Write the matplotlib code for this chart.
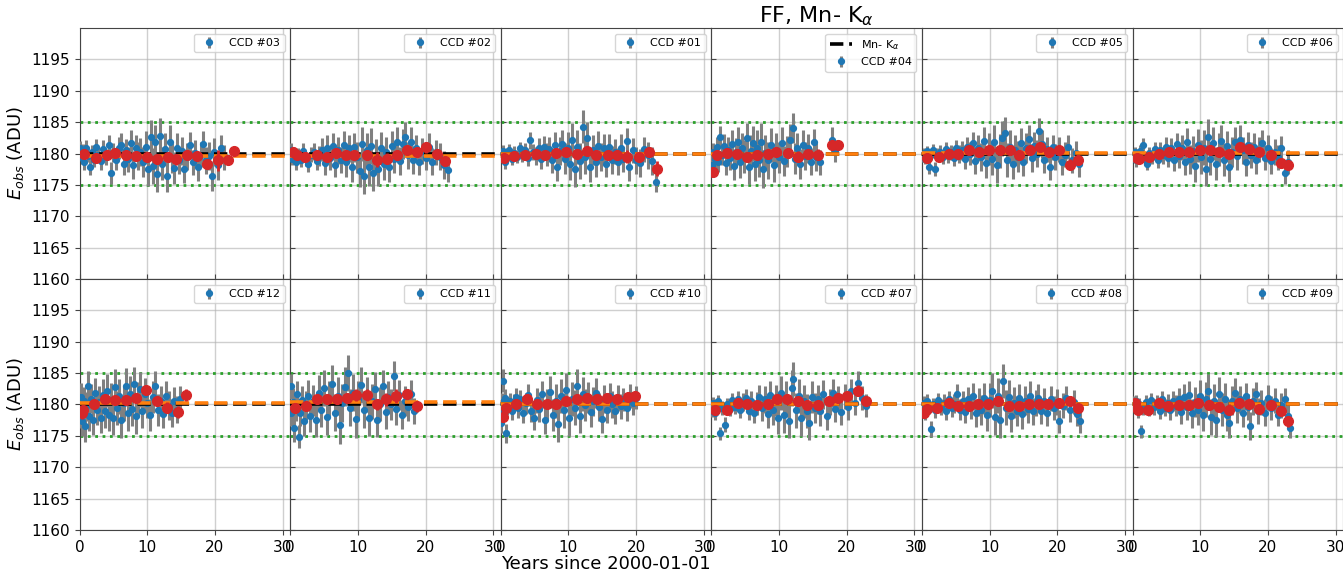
import matplotlib
matplotlib.use('Agg')
import matplotlib.pyplot as plt

# ---------------- data ----------------
top_ccds = ['03', '02', '01', '04', '05', '06']
bottom_ccds = ['12', '11', '10', '07', '08', '09']

mn_ka = 1180.0
band_low, band_high = 1175.0, 1185.0

# orange dashed level per CCD
fit_level = {'03': 1179.6, '02': 1179.65, '01': 1179.95, '04': 1179.95, '05': 1180.15, '06': 1180.15,
             '12': 1180.3, '11': 1180.35, '10': 1180.1, '07': 1180.05, '08': 1180.05, '09': 1180.05}

# blue points: (year, E_obs, error)
ccd03_pts = [(0.1,1180.8,1.2),(0.3,1179.3,1.0),(0.5,1180.4,1.1),(0.7,1178.7,1.3),(0.9,1180.9,1.2),(1.2,1179.6,1.0),(1.5,1177.9,1.4),(1.8,1180.3,1.1),(2.1,1179.0,1.2),(2.5,1181.0,1.3),(2.8,1179.8,1.2),(3.2,1178.8,1.5),(3.5,1180.7,1.4),(3.9,1179.4,1.3),(4.3,1181.3,1.6),(4.7,1176.9,1.8),(5.0,1180.2,1.5),(5.4,1179.0,1.6),(5.8,1180.9,1.7),(6.1,1181.4,1.8),(6.5,1178.4,1.9),(6.9,1180.5,1.8),(7.2,1179.1,2.0),(7.6,1181.6,2.1),(7.9,1178.2,2.2),(8.3,1180.9,2.1),(8.7,1179.6,2.3),(9.0,1180.2,2.2),(9.4,1178.7,2.4),(9.8,1181.1,2.5),(10.1,1177.5,2.6),(10.5,1182.6,2.7),(10.8,1178.0,2.8),(11.2,1181.9,2.7),(11.5,1176.8,2.9),(11.9,1182.8,2.8),(12.2,1178.4,2.7),(12.6,1180.7,2.6),(12.9,1176.4,2.5),(13.3,1181.9,2.6),(13.6,1179.3,2.4),(14.0,1177.7,2.5),(14.4,1180.9,2.3),(14.7,1178.9,2.2),(15.1,1180.4,2.3),(15.5,1177.5,2.2),(15.9,1179.5,2.1),(16.3,1181.3,2.2),(16.7,1178.6,2.0),(17.1,1180.1,2.1),(17.5,1177.8,2.2),(17.9,1179.8,2.0),(18.3,1181.5,2.1),(18.7,1178.9,2.2),(19.1,1179.6,2.3),(19.5,1176.4,2.4),(19.9,1180.2,2.2),(20.4,1178.1,2.3),(20.9,1180.8,2.1),(21.3,1179.4,2.0)]
ccd02_pts = [(0.1,1180.6,1.0),(0.3,1179.2,1.1),(0.6,1180.2,0.9),(0.9,1178.6,1.2),(1.2,1179.9,1.0),(1.6,1178.9,1.1),(1.9,1180.4,1.2),(2.3,1179.1,1.1),(2.7,1178.4,1.3),(3.1,1179.8,1.2),(3.5,1180.3,1.4),(3.9,1178.8,1.5),(4.3,1179.6,1.6),(4.7,1180.6,1.8),(5.1,1178.5,1.9),(5.5,1180.9,2.0),(5.9,1179.3,1.9),(6.3,1181.2,2.1),(6.7,1178.2,2.0),(7.1,1180.5,2.2),(7.5,1179.0,2.1),(7.9,1181.4,2.2),(8.3,1178.6,2.3),(8.7,1180.8,2.2),(9.1,1177.9,2.4),(9.5,1181.0,2.3),(9.9,1179.4,2.5),(10.3,1177.2,2.6),(10.6,1181.5,2.7),(10.9,1176.4,2.8),(11.3,1180.6,2.7),(11.6,1177.8,2.9),(12.0,1181.2,2.8),(12.3,1176.9,2.9),(12.7,1179.6,2.7),(13.0,1177.6,2.8),(13.4,1180.9,2.6),(13.8,1178.3,2.5),(14.2,1180.2,2.4),(14.6,1177.8,2.3),(15.0,1181.2,2.4),(15.4,1179.1,2.2),(15.8,1181.9,2.3),(16.2,1178.8,2.2),(16.6,1181.5,2.4),(17.0,1182.7,2.3),(17.4,1179.7,2.2),(17.8,1181.8,2.4),(18.2,1179.0,2.2),(18.6,1180.9,2.1),(19.0,1178.6,2.0),(19.5,1180.4,2.1),(20.0,1179.3,2.0),(20.5,1181.0,2.2),(21.0,1178.7,2.1),(21.5,1180.2,2.0),(22.1,1179.5,2.1),(22.7,1178.2,2.2),(23.3,1177.4,2.0)]
ccd01_pts = [(0.1,1179.6,1.0),(0.3,1180.4,0.9),(0.6,1178.6,1.1),(0.9,1179.9,1.0),(1.2,1180.6,0.9),(1.6,1179.2,1.0),(2.0,1180.1,1.1),(2.4,1179.5,1.0),(2.8,1180.8,1.1),(3.2,1179.9,1.2),(3.6,1180.5,1.2),(4.0,1179.3,1.3),(4.4,1182.1,1.4),(4.8,1180.2,1.3),(5.2,1179.6,1.5),(5.6,1180.9,1.5),(6.0,1179.2,1.6),(6.4,1181.1,1.7),(6.8,1179.8,1.8),(7.2,1180.7,1.9),(7.6,1178.9,2.0),(8.0,1181.3,2.1),(8.3,1177.8,2.2),(8.7,1180.4,2.2),(9.1,1181.5,2.3),(9.5,1179.2,2.4),(9.9,1180.9,2.5),(10.3,1178.3,2.6),(10.6,1182.2,2.7),(11.0,1177.5,2.8),(11.3,1181.0,2.7),(11.7,1178.8,2.8),(12.1,1184.3,2.6),(12.4,1179.5,2.7),(12.8,1182.4,2.6),(13.2,1177.9,2.5),(13.6,1180.6,2.4),(14.0,1178.6,2.3),(14.4,1181.2,2.4),(14.8,1179.4,2.2),(15.2,1180.8,2.3),(15.6,1178.4,2.2),(16.0,1181.0,2.1),(16.4,1179.0,2.2),(16.9,1180.3,2.0),(17.3,1178.7,2.1),(17.7,1180.9,2.2),(18.1,1179.1,2.0),(18.6,1182.0,2.1),(19.0,1177.8,2.2),(19.5,1180.5,2.0),(20.0,1178.9,2.1),(20.6,1178.5,2.2),(21.2,1180.7,2.0),(21.8,1179.7,2.1),(22.4,1178.8,2.2),(22.9,1175.4,1.6)]
ccd04_pts = [(0.1,1178.2,1.6),(0.3,1180.3,1.4),(0.5,1179.1,1.5),(0.8,1181.0,1.6),(1.0,1178.7,1.7),(1.3,1182.6,1.8),(1.6,1179.8,1.7),(1.9,1181.2,1.9),(2.2,1178.5,2.0),(2.5,1180.6,2.1),(2.8,1179.3,2.0),(3.1,1181.5,2.2),(3.4,1178.0,2.3),(3.7,1180.2,2.2),(4.0,1181.8,2.4),(4.3,1178.6,2.5),(4.6,1180.9,2.4),(4.9,1179.5,2.6),(5.2,1182.4,2.5),(5.5,1177.9,2.7),(5.8,1180.4,2.6),(6.1,1181.6,2.8),(6.4,1178.3,2.7),(6.7,1180.8,2.9),(7.0,1179.0,2.8),(7.4,1181.9,2.9),(7.7,1177.5,3.0),(8.0,1180.1,2.8),(8.4,1178.9,2.9),(8.8,1181.3,2.7),(9.2,1178.2,2.8),(9.6,1180.6,2.6),(10.0,1179.4,2.5),(10.4,1181.7,2.6),(10.8,1178.8,2.4),(11.2,1180.3,2.5),(11.6,1182.1,2.6),(12.0,1184.1,2.4),(12.3,1179.2,2.5),(12.7,1180.9,2.3),(13.1,1178.3,2.4),(13.5,1181.4,2.3),(13.9,1179.6,2.2),(14.3,1180.8,2.3),(14.7,1178.7,2.2),(15.1,1181.8,2.1),(15.5,1179.4,2.2),(16.1,1178.6,2.0),(17.8,1182.2,2.0),(18.3,1180.4,1.8)]
ccd05_pts = [(0.1,1179.5,0.9),(0.3,1180.1,0.8),(0.5,1179.2,0.9),(0.8,1180.4,0.8),(1.1,1177.8,1.0),(1.4,1179.8,0.9),(1.7,1180.6,0.9),(2.0,1177.5,1.1),(2.3,1179.9,0.9),(2.7,1180.3,1.0),(3.1,1179.4,1.0),(3.5,1180.7,1.1),(3.9,1179.7,1.2),(4.3,1180.2,1.2),(4.7,1179.3,1.3),(5.1,1180.8,1.3),(5.5,1179.9,1.4),(5.9,1180.5,1.5),(6.3,1179.1,1.6),(6.7,1181.0,1.7),(7.1,1180.0,1.8),(7.5,1181.6,1.9),(7.9,1178.8,2.0),(8.3,1180.9,2.1),(8.7,1179.4,2.2),(9.1,1182.0,2.3),(9.5,1178.5,2.4),(9.9,1180.7,2.5),(10.3,1179.2,2.6),(10.7,1181.8,2.7),(11.1,1178.1,2.8),(11.5,1180.4,2.7),(11.9,1182.4,2.8),(12.2,1183.2,2.6),(12.6,1179.0,2.7),(13.0,1181.1,2.6),(13.4,1178.4,2.5),(13.8,1180.6,2.4),(14.2,1179.5,2.5),(14.6,1181.7,2.4),(15.0,1178.7,2.3),(15.4,1180.9,2.4),(15.8,1182.3,2.3),(16.2,1179.3,2.2),(16.6,1181.2,2.3),(17.0,1180.0,2.2),(17.3,1183.6,2.1),(17.7,1181.5,2.2),(18.1,1179.0,2.1),(18.5,1180.7,2.0),(18.9,1177.9,2.1),(19.3,1181.0,2.0),(19.7,1179.4,2.1),(20.2,1180.6,2.0),(20.7,1178.6,2.1),(21.2,1179.8,2.0),(21.6,1181.0,1.9),(22.2,1178.9,2.0),(22.7,1180.1,1.9),(23.2,1178.3,2.0)]
ccd06_pts = [(0.1,1179.6,0.9),(0.3,1180.2,0.8),(0.5,1178.9,1.0),(0.8,1179.8,0.9),(1.1,1180.4,0.9),(1.5,1181.4,1.0),(1.8,1179.2,1.0),(2.1,1178.4,1.1),(2.5,1180.1,1.0),(2.9,1179.5,1.1),(3.3,1180.7,1.2),(3.7,1179.0,1.3),(4.1,1180.5,1.3),(4.5,1179.7,1.4),(4.9,1181.1,1.5),(5.3,1179.3,1.5),(5.7,1180.8,1.6),(6.1,1178.9,1.7),(6.5,1181.5,1.8),(6.9,1179.6,1.9),(7.3,1180.9,2.0),(7.7,1178.6,2.1),(8.1,1181.8,2.2),(8.5,1179.1,2.3),(8.9,1180.4,2.4),(9.3,1178.0,2.5),(9.7,1181.3,2.6),(10.1,1179.5,2.7),(10.5,1180.9,2.8),(10.8,1177.6,2.7),(11.1,1182.7,2.8),(11.5,1179.2,2.7),(11.9,1181.6,2.6),(12.3,1178.4,2.7),(12.7,1180.6,2.6),(13.1,1182.0,2.5),(13.5,1179.0,2.6),(13.9,1181.2,2.4),(14.3,1177.9,2.5),(14.7,1180.3,2.4),(15.1,1181.9,2.3),(15.5,1179.6,2.2),(15.9,1182.2,2.3),(16.3,1180.5,2.2),(16.7,1178.7,2.3),(17.1,1181.3,2.2),(17.5,1179.8,2.1),(17.9,1181.0,2.2),(18.3,1178.9,2.1),(18.7,1180.6,2.0),(19.1,1181.7,2.1),(19.5,1179.3,2.0),(20.0,1180.8,2.1),(20.5,1178.8,2.0),(21.0,1180.2,2.1),(21.5,1179.4,2.0),(22.0,1180.9,1.9),(22.5,1176.9,1.8),(22.9,1178.6,1.9)]
ccd12_pts = [(0.1,1178.5,2.2),(0.2,1181.2,2.3),(0.4,1177.4,2.4),(0.6,1180.6,2.2),(0.8,1176.5,2.5),(1.0,1179.7,2.3),(1.2,1182.9,2.4),(1.4,1178.2,2.5),(1.7,1180.9,2.3),(2.0,1177.6,2.4),(2.3,1181.8,2.5),(2.6,1179.2,2.4),(2.9,1180.4,2.6),(3.2,1177.9,2.5),(3.5,1181.5,2.6),(3.8,1179.0,2.7),(4.1,1182.2,2.6),(4.4,1178.4,2.7),(4.7,1180.7,2.8),(5.0,1177.8,2.7),(5.3,1182.8,2.8),(5.6,1179.5,2.7),(5.9,1181.3,2.8),(6.2,1177.5,2.9),(6.5,1180.2,2.8),(6.8,1182.9,2.9),(7.1,1178.6,2.8),(7.4,1181.7,2.9),(7.7,1179.3,2.8),(8.0,1183.3,2.7),(8.3,1178.1,2.8),(8.6,1180.9,2.7),(8.9,1182.4,2.8),(9.2,1179.0,2.7),(9.6,1181.6,2.6),(10.0,1180.3,2.5),(10.4,1178.3,2.6),(10.8,1181.2,2.5),(11.2,1182.9,2.4),(11.6,1179.1,2.5),(12.0,1180.6,2.4),(12.4,1178.5,2.3),(12.8,1181.4,2.4),(13.2,1179.8,2.3),(13.6,1178.6,2.2),(14.0,1180.5,2.3),(14.4,1179.2,2.2),(14.9,1180.8,2.1)]
ccd11_pts = [(0.1,1182.9,2.0),(0.2,1178.6,2.1),(0.4,1180.4,2.2),(0.6,1176.3,2.3),(0.8,1179.5,2.1),(1.0,1181.6,2.2),(1.3,1174.9,1.8),(1.5,1178.7,2.2),(1.8,1180.7,2.3),(2.1,1177.4,2.4),(2.4,1179.9,2.3),(2.7,1181.4,2.5),(3.0,1178.2,2.6),(3.4,1180.6,2.5),(3.8,1177.5,2.7),(4.2,1181.9,2.8),(4.6,1179.1,2.7),(5.0,1182.6,2.9),(5.4,1178.0,2.8),(5.8,1180.9,2.9),(6.2,1183.3,3.0),(6.6,1178.7,2.9),(7.0,1181.4,3.0),(7.3,1176.8,3.1),(7.7,1180.2,3.0),(8.1,1182.8,3.1),(8.5,1185.0,2.9),(8.9,1179.5,3.0),(9.3,1181.9,2.9),(9.7,1177.7,3.0),(10.1,1180.8,2.9),(10.5,1183.1,2.8),(10.9,1179.2,2.9),(11.3,1181.6,2.8),(11.7,1177.9,2.9),(12.1,1180.5,2.8),(12.5,1182.4,2.7),(12.9,1177.6,2.8),(13.3,1180.1,2.7),(13.7,1182.9,2.6),(14.1,1178.8,2.7),(14.5,1181.2,2.6),(14.9,1180.0,2.5),(15.3,1184.5,2.4),(15.7,1179.3,2.5),(16.1,1181.5,2.4),(16.5,1178.4,2.3),(16.9,1180.6,2.4),(17.4,1179.6,2.3),(17.8,1181.7,2.2),(18.3,1179.0,2.1)]
ccd10_pts = [(0.1,1177.0,1.6),(0.2,1180.4,1.5),(0.3,1183.8,1.8),(0.4,1179.2,1.6),(0.6,1181.0,1.5),(0.8,1175.4,1.5),(1.0,1179.8,1.4),(1.3,1180.6,1.3),(1.6,1178.9,1.4),(1.9,1180.3,1.3),(2.2,1181.2,1.4),(2.5,1179.4,1.5),(2.9,1180.8,1.5),(3.3,1178.6,1.6),(3.7,1180.2,1.7),(4.1,1181.5,1.7),(4.5,1179.0,1.8),(4.9,1177.9,1.9),(5.3,1180.7,2.0),(5.7,1179.3,2.1),(6.1,1181.6,2.2),(6.5,1177.6,2.3),(6.9,1180.1,2.4),(7.3,1182.0,2.5),(7.7,1178.3,2.6),(8.1,1180.6,2.7),(8.5,1176.9,2.8),(8.9,1181.4,2.7),(9.3,1179.1,2.8),(9.7,1182.3,2.7),(10.1,1177.8,2.8),(10.5,1180.9,2.7),(10.9,1179.5,2.8),(11.3,1182.9,2.7),(11.7,1178.1,2.6),(12.1,1181.7,2.7),(12.5,1179.9,2.6),(12.9,1181.1,2.5),(13.3,1178.8,2.4),(13.7,1180.5,2.3),(14.1,1181.8,2.4),(14.5,1179.6,2.2),(14.9,1177.7,2.3),(15.3,1180.9,2.2),(15.7,1179.2,2.1),(16.1,1181.3,2.2),(16.5,1180.0,2.1),(16.9,1178.9,2.0),(17.3,1181.0,2.1),(17.7,1179.7,2.0),(18.1,1180.8,1.9),(18.6,1179.4,2.0),(19.1,1181.4,1.9),(19.6,1180.2,1.8),(20.0,1181.1,1.8)]
ccd07_pts = [(0.1,1179.0,1.0),(0.3,1180.3,0.9),(0.5,1178.6,1.1),(0.7,1179.8,1.0),(1.0,1180.5,1.0),(1.3,1175.4,1.0),(1.6,1179.4,1.1),(2.0,1176.8,1.2),(2.3,1180.1,1.0),(2.7,1179.3,1.1),(3.1,1180.7,1.2),(3.5,1179.6,1.1),(3.9,1180.9,1.3),(4.3,1179.2,1.3),(4.7,1180.4,1.4),(5.1,1181.0,1.5),(5.5,1179.0,1.5),(5.9,1180.6,1.6),(6.3,1178.7,1.7),(6.7,1180.2,1.8),(7.1,1181.2,1.9),(7.5,1179.4,2.0),(7.9,1180.8,2.1),(8.3,1178.5,2.2),(8.7,1181.5,2.3),(9.1,1179.2,2.4),(9.5,1180.6,2.5),(9.9,1177.9,2.6),(10.3,1181.9,2.7),(10.7,1178.3,2.8),(11.1,1180.9,2.9),(11.5,1177.4,2.8),(11.9,1182.6,2.9),(12.1,1184.0,2.7),(12.5,1179.1,2.8),(12.9,1181.4,2.7),(13.3,1177.8,2.8),(13.7,1180.5,2.6),(14.1,1179.0,2.7),(14.5,1177.0,2.6),(14.9,1181.2,2.5),(15.3,1179.5,2.4),(15.7,1180.8,2.3),(16.1,1178.9,2.4),(16.5,1181.6,2.3),(17.1,1178.1,2.2),(17.5,1180.4,2.1),(17.9,1181.8,2.2),(18.3,1179.3,2.1),(18.7,1180.9,2.0),(19.2,1178.8,2.1),(19.7,1181.3,2.0),(20.2,1179.6,2.1),(20.7,1182.1,2.0),(21.2,1180.2,1.9),(21.7,1183.4,2.0),(22.2,1181.0,1.9),(22.8,1179.8,1.8)]
ccd08_pts = [(0.1,1179.3,1.2),(0.3,1180.2,1.1),(0.5,1178.7,1.2),(0.7,1180.6,1.1),(1.0,1179.5,1.0),(1.4,1176.1,1.2),(1.7,1180.0,1.1),(2.0,1179.1,1.2),(2.4,1180.7,1.1),(2.8,1179.6,1.2),(3.2,1180.3,1.3),(3.6,1178.9,1.3),(4.0,1180.8,1.4),(4.4,1179.4,1.4),(4.8,1180.1,1.5),(5.2,1181.6,1.6),(5.6,1179.2,1.6),(6.0,1180.5,1.7),(6.4,1178.8,1.8),(6.8,1180.9,1.9),(7.2,1179.7,2.0),(7.6,1181.3,2.1),(8.0,1178.6,2.2),(8.4,1180.4,2.3),(8.8,1179.1,2.4),(9.2,1181.0,2.5),(9.6,1178.3,2.6),(10.0,1180.7,2.7),(10.4,1182.2,2.8),(10.8,1178.0,2.9),(11.2,1181.4,2.8),(11.6,1177.6,2.9),(12.0,1183.7,2.7),(12.4,1179.5,2.8),(12.8,1181.2,2.7),(13.2,1178.2,2.6),(13.6,1180.3,2.5),(14.0,1179.0,2.4),(14.4,1181.0,2.3),(14.8,1178.5,2.4),(15.2,1180.6,2.3),(15.6,1179.3,2.2),(16.0,1181.4,2.3),(16.4,1178.9,2.2),(16.8,1180.2,2.1),(17.2,1181.1,2.2),(17.6,1179.0,2.1),(18.0,1180.6,2.0),(18.5,1178.6,2.1),(19.0,1180.9,2.0),(19.5,1179.5,1.9),(20.0,1180.4,2.0),(20.3,1177.3,1.9),(20.8,1179.8,2.0),(21.3,1181.0,1.9),(21.8,1179.2,2.0),(22.4,1180.4,1.9),(22.9,1178.5,1.9),(23.3,1177.3,1.8)]
ccd09_pts = [(0.1,1180.3,1.0),(0.3,1179.6,0.9),(0.5,1180.5,1.0),(0.8,1179.0,1.1),(1.0,1180.1,0.9),(1.3,1175.7,1.0),(1.6,1179.4,1.0),(2.0,1180.4,1.1),(2.4,1179.2,1.0),(2.8,1180.7,1.1),(3.2,1179.6,1.2),(3.6,1180.3,1.2),(4.0,1179.0,1.3),(4.4,1180.8,1.3),(4.8,1179.5,1.4),(5.2,1180.2,1.4),(5.6,1179.1,1.5),(6.0,1180.6,1.6),(6.4,1179.8,1.7),(6.8,1180.9,1.8),(7.2,1178.8,1.9),(7.6,1181.2,2.0),(8.0,1179.6,2.1),(8.4,1181.5,2.2),(8.8,1178.6,2.3),(9.2,1180.4,2.4),(9.6,1179.2,2.5),(10.0,1181.3,2.6),(10.4,1178.4,2.7),(10.8,1180.8,2.8),(11.2,1182.2,2.7),(11.6,1178.0,2.8),(12.0,1180.5,2.7),(12.4,1177.6,2.8),(12.8,1181.7,2.7),(13.2,1179.2,2.6),(13.6,1180.9,2.5),(14.0,1178.3,2.6),(14.3,1177.0,2.4),(14.7,1180.6,2.3),(15.1,1181.9,2.4),(15.5,1179.4,2.3),(15.9,1180.8,2.2),(16.3,1178.7,2.3),(16.7,1181.3,2.2),(17.1,1179.6,2.1),(17.4,1176.6,2.2),(17.8,1180.5,2.1),(18.2,1181.6,2.0),(18.6,1179.0,2.1),(19.0,1180.3,2.0),(19.5,1178.7,2.1),(20.0,1181.1,2.0),(20.5,1179.5,1.9),(21.0,1180.6,2.0),(21.5,1178.4,1.9),(22.0,1179.9,2.0),(22.5,1180.8,1.9),(22.9,1178.2,1.8),(23.3,1176.3,1.6)]

# red points (binned averages): (year, E_obs, error)
ccd03_avg = [(0.6,1180.0,0.5),(2.4,1179.3,0.6),(4.1,1179.7,0.4),(5.3,1180.1,0.5),(6.8,1179.8,0.4),(8.3,1179.6,0.5),(10.0,1179.5,0.6),(11.5,1179.1,0.7),(13.0,1179.5,0.8),(14.3,1179.1,0.9),(15.9,1179.7,0.6),(17.4,1179.6,0.7),(18.9,1178.3,0.8),(20.4,1178.9,1.7),(22.0,1179.0,0.7),(22.8,1180.4,0.6)]
ccd02_avg = [(0.5,1180.3,0.5),(1.0,1179.8,0.4),(2.2,1179.5,0.5),(3.9,1179.8,0.4),(5.4,1179.5,0.5),(6.8,1180.1,0.5),(8.3,1179.8,0.6),(9.5,1179.8,0.6),(11.4,1179.8,0.8),(12.8,1179.0,1.2),(14.3,1179.2,0.9),(15.8,1179.7,0.7),(17.2,1180.6,0.8),(18.7,1180.3,0.8),(20.1,1181.0,0.9),(21.7,1179.9,0.7),(22.9,1178.8,0.8)]
ccd01_avg = [(0.5,1179.3,0.5),(2.0,1179.6,0.4),(3.6,1179.8,0.4),(5.2,1179.9,0.4),(6.6,1179.8,0.5),(8.2,1180.1,0.5),(9.6,1180.2,0.6),(11.3,1179.9,0.7),(12.8,1180.4,0.8),(14.1,1179.8,0.7),(15.8,1179.8,0.6),(17.2,1179.8,0.6),(18.7,1179.5,1.0),(20.4,1179.5,0.7),(21.9,1180.3,0.7),(23.1,1177.6,1.2)]
ccd04_avg = [(0.2,1177.0,0.6),(0.8,1179.7,0.5),(2.3,1180.1,0.5),(3.8,1179.9,0.5),(5.2,1179.4,0.6),(6.8,1179.8,0.6),(8.3,1179.9,0.6),(9.6,1180.2,0.7),(11.4,1180.1,0.8),(12.8,1179.5,0.9),(14.3,1179.9,0.8),(15.8,1179.8,0.9),(17.8,1181.3,0.8),(18.7,1181.4,0.7)]
ccd05_avg = [(0.8,1179.3,0.4),(2.5,1179.5,0.4),(4.0,1179.9,0.4),(5.4,1179.9,0.4),(7.0,1180.6,0.5),(8.5,1180.3,0.6),(9.9,1180.6,0.6),(11.5,1180.6,0.7),(13.0,1180.6,0.7),(14.4,1179.8,0.8),(15.9,1180.6,0.7),(17.4,1181.0,0.8),(18.8,1180.3,0.7),(20.2,1180.6,0.7),(21.9,1178.2,0.9),(23.0,1179.0,0.8)]
ccd06_avg = [(0.6,1179.3,0.4),(0.9,1179.1,0.4),(2.5,1179.4,0.4),(3.9,1180.0,0.4),(5.4,1180.3,0.5),(6.9,1180.3,0.5),(8.3,1180.3,0.6),(9.9,1180.6,0.6),(11.5,1180.6,0.7),(12.7,1180.3,0.7),(14.3,1180.0,0.7),(15.9,1181.1,0.7),(17.2,1180.7,0.7),(18.7,1180.3,0.7),(20.4,1179.7,0.8),(21.9,1178.5,0.8),(23.0,1178.2,0.8)]
ccd12_avg = [(0.3,1178.6,0.9),(0.5,1179.1,0.8),(2.2,1180.0,0.6),(3.8,1180.8,0.6),(5.3,1180.7,0.6),(6.9,1180.7,0.7),(8.4,1181.1,0.7),(9.8,1182.3,0.8),(11.4,1180.6,0.8),(12.9,1179.5,0.9),(14.5,1178.8,0.9),(15.8,1181.5,0.9)]
ccd11_avg = [(0.7,1179.4,0.8),(2.4,1179.7,0.7),(3.9,1180.9,0.7),(5.4,1180.8,0.7),(6.9,1180.8,0.8),(8.4,1181.1,0.8),(9.8,1181.5,0.9),(11.4,1181.5,0.9),(12.9,1180.0,0.9),(14.2,1180.8,1.0),(15.7,1181.3,1.1),(17.2,1181.6,0.8),(18.7,1179.7,0.9)]
ccd10_avg = [(0.3,1178.0,0.8),(0.8,1179.5,0.6),(2.3,1180.1,0.5),(3.9,1180.9,0.5),(5.3,1180.1,0.6),(6.9,1180.0,0.6),(8.2,1180.0,0.7),(9.6,1180.5,0.7),(11.2,1180.8,0.8),(12.7,1181.0,0.8),(14.2,1180.8,0.8),(15.7,1181.0,0.8),(17.2,1180.9,0.7),(18.8,1181.2,0.8),(19.8,1181.3,0.8)]
ccd07_avg = [(0.6,1179.1,0.5),(2.3,1179.1,0.5),(3.9,1180.2,0.5),(5.3,1180.0,0.5),(6.8,1179.9,0.6),(8.3,1180.0,0.6),(9.7,1180.8,0.7),(11.2,1180.8,0.8),(12.8,1180.6,0.8),(14.2,1179.9,0.8),(15.8,1179.9,0.7),(17.4,1180.6,0.7),(18.7,1181.1,0.7),(20.1,1181.3,0.7),(21.7,1182.2,0.9),(22.8,1180.5,0.8)]
ccd08_avg = [(0.3,1178.6,0.5),(0.8,1179.3,0.5),(2.3,1179.5,0.4),(4.0,1180.3,0.4),(5.4,1179.8,0.5),(7.0,1179.8,0.5),(8.3,1180.0,0.6),(9.8,1180.0,0.6),(11.3,1180.6,0.7),(12.8,1179.7,0.8),(14.3,1179.7,0.7),(15.8,1180.0,0.7),(17.3,1180.0,0.7),(18.6,1180.1,0.6),(20.2,1180.2,0.7),(21.8,1180.6,0.7),(23.0,1179.4,0.8)]
ccd09_avg = [(0.3,1180.3,0.5),(0.8,1179.1,0.5),(2.3,1179.1,0.4),(3.9,1180.2,0.4),(5.2,1179.8,0.5),(6.8,1179.9,0.5),(8.3,1179.9,0.6),(9.6,1180.3,0.6),(11.3,1179.9,0.7),(12.8,1179.6,0.8),(14.3,1179.2,0.8),(15.8,1180.3,0.7),(17.2,1180.1,0.7),(18.7,1179.3,0.8),(20.4,1179.9,0.7),(21.9,1179.0,0.8),(23.0,1177.3,0.9)]

points = {'03': ccd03_pts, '02': ccd02_pts, '01': ccd01_pts, '04': ccd04_pts, '05': ccd05_pts, '06': ccd06_pts,
          '12': ccd12_pts, '11': ccd11_pts, '10': ccd10_pts, '07': ccd07_pts, '08': ccd08_pts, '09': ccd09_pts}
averages = {'03': ccd03_avg, '02': ccd02_avg, '01': ccd01_avg, '04': ccd04_avg, '05': ccd05_avg, '06': ccd06_avg,
            '12': ccd12_avg, '11': ccd11_avg, '10': ccd10_avg, '07': ccd07_avg, '08': ccd08_avg, '09': ccd09_avg}

x_ticks = [0, 10, 20, 30]
y_ticks = [1160, 1165, 1170, 1175, 1180, 1185, 1190, 1195]

# ---------------- figure ----------------
W, H = 1343, 574
fig = plt.figure(figsize=(W / 100, H / 100), dpi=100)

col_w = 210.6
left0 = 79.5
row_h = 251.0
row_tops = [28.0, 279.0]
x_max = 31.1

for r, ccds in enumerate([top_ccds, bottom_ccds]):
    for c, ccd in enumerate(ccds):
        x0 = (left0 + c * col_w) / W
        y0 = 1 - (row_tops[r] + row_h) / H
        ax = fig.add_axes([x0, y0, col_w / W, row_h / H])
        ax.set_xlim(0, x_max)
        ax.set_ylim(1160, 1200)
        ax.set_xticks(x_ticks)
        ax.set_yticks(y_ticks)
        ax.grid(True, color='#b0b0b0', alpha=0.6, lw=1.0)
        ax.set_axisbelow(True)

        pts = points[ccd]
        px = [p[0] for p in pts]
        py = [p[1] for p in pts]
        pe = [p[2] for p in pts]
        hb = ax.errorbar(px, py, yerr=pe, fmt='o', color='tab:blue', ms=4.2,
                         ecolor='gray', elinewidth=2.2, capsize=0, zorder=3,
                         label=f'CCD #{ccd}')

        hk, = ax.plot([0, x_max], [mn_ka, mn_ka], ls='--', color='black', lw=2.6, zorder=4,
                      label='Mn- K$_\\alpha$')
        ax.plot([0, x_max], [fit_level[ccd]] * 2, ls='--', color='tab:orange', lw=2.6, zorder=5)

        av = averages[ccd]
        ax.errorbar([a[0] for a in av], [a[1] for a in av], yerr=[a[2] for a in av],
                    fmt='o', color='tab:red', ms=7, ecolor='tab:red', elinewidth=2,
                    capsize=0, zorder=6)

        ax.plot([0, x_max], [band_low] * 2, ls=':', color='tab:green', lw=2, zorder=2)
        ax.plot([0, x_max], [band_high] * 2, ls=':', color='tab:green', lw=2, zorder=2)

        if ccd == '04':
            ax.legend(handles=[hk, hb], loc='upper right', fontsize=8)
            ax.set_title('FF, Mn- K$_\\alpha$', fontsize=16, pad=4)
        else:
            ax.legend(handles=[hb], loc='upper right', fontsize=8)

        ax.tick_params(direction='in', labelsize=11, color='#444444')
        if c == 0:
            ax.tick_params(axis='y', direction='out')
            ax.set_ylabel('$E_{obs}$ (ADU)', fontsize=13)
        else:
            ax.tick_params(axis='y', labelleft=False)
        if r == 0:
            ax.tick_params(axis='x', labelbottom=False)
        else:
            ax.tick_params(axis='x', direction='out')
        if r == 1 and c == 2:
            ax.set_xlabel('Years since 2000-01-01', fontsize=13, labelpad=0)
        for s in ax.spines.values():
            s.set_color('#444444')

fig.savefig('out.png', dpi=100)
